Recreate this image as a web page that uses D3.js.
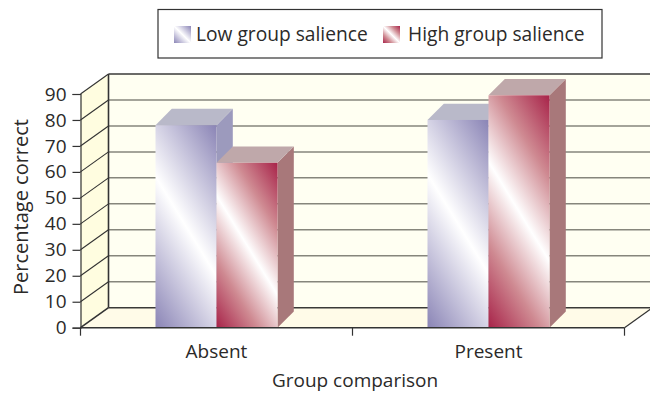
<!DOCTYPE html>
<html>
<head>
<meta charset="utf-8">
<script src="https://cdn.jsdelivr.net/npm/d3@7"></script>
<style>
  html, body { margin: 0; padding: 0; background: #fff; }
  text { font-family: "Open Sans", "Noto Sans", sans-serif; fill: #2b2a29; }
</style>
</head>
<body>
<div id="chart"></div>
<script>
var categories = ["Absent", "Present"];
var seriesNames = ["Low group salience", "High group salience"];
var lowValues = [78, 80];
var highValues = [63.5, 89.5];
var yTicks = [0, 10, 20, 30, 40, 50, 60, 70, 80, 90];

var width = 650, height = 393;
var x0 = 80.5, x1 = 624.5, yBase = 327.7, yTop = 94;   // front plane of the box
var depthX = 28, depthY = 20;                          // wall depth
var barDepth = 16.3, barWidth = 61;

var colors = [
  {dark: "#8b85b6", mid: "#c5c2db", top: "#b9b9c9", side: "#9c9abd"},
  {dark: "#a8244a", mid: "#cf8a92", top: "#bfa8aa", side: "#a8787a"}
];

var svg = d3.select("#chart").append("svg")
    .attr("width", width)
    .attr("height", height)
    .style("display", "block");
var defs = svg.append("defs");

var x = d3.scaleBand().domain(categories).range([x0, x1]);
var y = d3.scaleLinear().domain([0, 90]).range([yBase, yTop]);

function addStops(g, c) {
  g.append("stop").attr("offset", 0).attr("stop-color", c.dark);
  g.append("stop").attr("offset", 0.25).attr("stop-color", c.mid);
  g.append("stop").attr("offset", 0.5).attr("stop-color", "#fff");
  g.append("stop").attr("offset", 0.75).attr("stop-color", c.mid);
  g.append("stop").attr("offset", 1).attr("stop-color", c.dark);
}

// walls
svg.append("polygon")
    .attr("points", [[x0, yBase], [x0 + depthX, yBase - depthY], [x1 + depthX, yBase - depthY], [x1, yBase]].join(" "))
    .attr("fill", "#fffbe8");
svg.append("polygon")
    .attr("points", [[x0, yBase], [x0, yTop], [x0 + depthX, yTop - depthY], [x0 + depthX, yBase - depthY]].join(" "))
    .attr("fill", "#fffde0");
svg.append("rect")
    .attr("x", x0 + depthX)
    .attr("y", yTop - depthY)
    .attr("width", x1 - x0)
    .attr("height", yBase - yTop)
    .attr("fill", "#fffff2");

// grid lines on the back wall, and their diagonals on the left wall
svg.selectAll(".grid")
    .data(yTicks)
    .enter().append("line")
    .attr("class", "grid")
    .attr("x1", x0 + depthX)
    .attr("x2", x1 + depthX)
    .attr("y1", function(d) {return y(d) - depthY;})
    .attr("y2", function(d) {return y(d) - depthY;})
    .attr("stroke", function(d) {return (d == 0 || d == 90) ? "#3a3a38" : "#86867c";})
    .attr("stroke-width", function(d) {return (d == 0 || d == 90) ? 1.6 : 1.5;});
svg.selectAll(".diag")
    .data(yTicks)
    .enter().append("line")
    .attr("class", "diag")
    .attr("x1", x0)
    .attr("x2", x0 + depthX)
    .attr("y1", function(d) {return y(d);})
    .attr("y2", function(d) {return y(d) - depthY;})
    .attr("stroke", "#333")
    .attr("stroke-width", function(d) {return d == 0 ? 1.6 : 1.1;});
svg.append("line")
    .attr("x1", x0 + depthX).attr("x2", x0 + depthX)
    .attr("y1", yTop - depthY).attr("y2", yBase - depthY)
    .attr("stroke", "#333").attr("stroke-width", 1.6);
svg.append("line")
    .attr("x1", x1).attr("x2", x1 + depthX)
    .attr("y1", yBase).attr("y2", yBase - depthY)
    .attr("stroke", "#333").attr("stroke-width", 1.2);

// bars
function drawBar(value, category, s) {
  var bx = x(category) + x.bandwidth() / 2 + (s == 0 ? -barWidth : 0);
  var by = y(value);
  var c = colors[s];
  var id = "grad" + s + categories.indexOf(category);

  // white band runs through the middle of the front face
  var cx = bx + barWidth / 2, cy = (by + yBase) / 2;
  var len = 0.85 * barWidth / 2 + 0.52 * (yBase - by) / 2;
  var g = defs.append("linearGradient").attr("id", id)
      .attr("gradientUnits", "userSpaceOnUse")
      .attr("x1", cx - 0.85 * len).attr("y1", cy + 0.52 * len)
      .attr("x2", cx + 0.85 * len).attr("y2", cy - 0.52 * len);
  addStops(g, c);

  svg.append("polygon")
      .attr("points", [[bx + barWidth, by], [bx + barWidth + barDepth, by - barDepth],
                       [bx + barWidth + barDepth, yBase - barDepth], [bx + barWidth, yBase]].join(" "))
      .attr("fill", c.side);
  svg.append("polygon")
      .attr("points", [[bx, by], [bx + barDepth, by - barDepth],
                       [bx + barWidth + barDepth, by - barDepth], [bx + barWidth, by]].join(" "))
      .attr("fill", c.top);
  svg.append("rect")
      .attr("x", bx).attr("y", by)
      .attr("width", barWidth).attr("height", yBase - by)
      .attr("fill", "url(#" + id + ")");
}

categories.forEach(function(cat, i) {
  drawBar(lowValues[i], cat, 0);
  drawBar(highValues[i], cat, 1);
});

// axes
var yAxis = d3.axisLeft(y).tickValues(yTicks).tickSize(8).tickPadding(6);
var yG = svg.append("g")
    .attr("transform", "translate(" + x0 + ",0)")
    .call(yAxis);
yG.selectAll("line").attr("stroke", "#333").attr("stroke-width", 1.2);
yG.select(".domain").attr("stroke", "#333").attr("stroke-width", 1.2);
yG.selectAll("text").style("font-size", "19px").attr("fill", "#2b2a29");

var xAxis = d3.axisBottom(x).tickSize(0).tickPadding(17);
var xG = svg.append("g")
    .attr("transform", "translate(0," + yBase + ")")
    .call(xAxis);
xG.select(".domain").remove();
xG.selectAll("text").style("font-size", "19px").attr("fill", "#2b2a29");

svg.append("line")
    .attr("x1", x0).attr("x2", x1)
    .attr("y1", yBase).attr("y2", yBase)
    .attr("stroke", "#333").attr("stroke-width", 1.6);
svg.selectAll(".xtick")
    .data([x0, x(categories[1]), x1])
    .enter().append("line")
    .attr("class", "xtick")
    .attr("x1", function(d) {return d;})
    .attr("x2", function(d) {return d;})
    .attr("y1", yBase)
    .attr("y2", yBase + 8)
    .attr("stroke", "#333")
    .attr("stroke-width", 1.2);

// axis titles
svg.append("text")
    .attr("transform", "translate(28,207) rotate(-90)")
    .attr("text-anchor", "middle")
    .style("font-size", "20px")
    .text("Percentage correct");
svg.append("text")
    .attr("x", 355)
    .attr("y", 387)
    .attr("text-anchor", "middle")
    .style("font-size", "19px")
    .text("Group comparison");

// legend
svg.append("rect")
    .attr("x", 158).attr("y", 9.5)
    .attr("width", 444).attr("height", 48.5)
    .attr("fill", "#fff")
    .attr("stroke", "#333")
    .attr("stroke-width", 1.2);
var legendX = [174, 383], legendTextX = [196, 408];
seriesNames.forEach(function(name, i) {
  var g = defs.append("linearGradient").attr("id", "leg" + i)
      .attr("x1", 0).attr("y1", 1).attr("x2", 1).attr("y2", 0);
  addStops(g, colors[i]);
  svg.append("rect")
      .attr("x", legendX[i]).attr("y", 26)
      .attr("width", 17).attr("height", 17)
      .attr("fill", "url(#leg" + i + ")");
  svg.append("text")
      .attr("x", legendTextX[i])
      .attr("y", 41)
      .style("font-size", "19.2px")
      .text(name);
});
</script>
</body>
</html>
